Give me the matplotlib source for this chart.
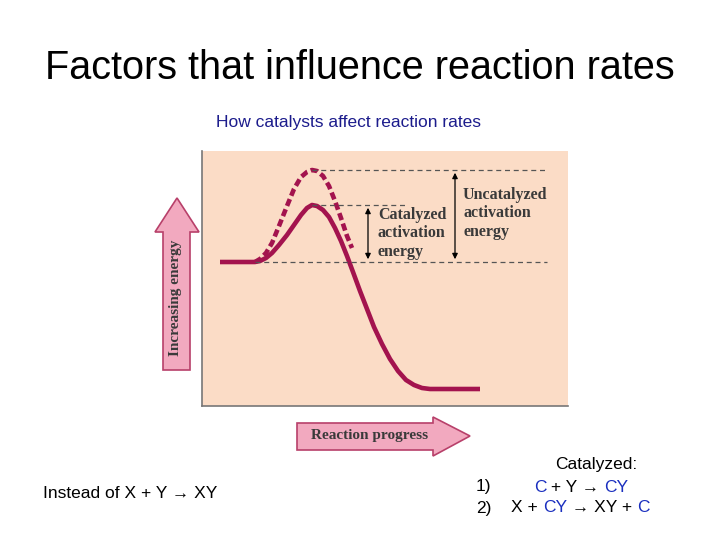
import matplotlib
matplotlib.use("Agg")
import matplotlib.pyplot as plt
from matplotlib.patches import Polygon

# data (panel coordinates: progress, energy)
solid_x = [18, 53, 58, 64, 70, 77, 85, 92, 99, 105, 110, 115, 121, 127, 133, 139, 145, 151,
           158, 165, 172, 180, 188, 196, 204, 212, 220, 228, 238, 278]
solid_y = [144, 144, 145, 148, 153, 161, 171, 181, 191, 198, 201, 200, 196, 189, 178, 165,
           150, 134, 115, 97, 79, 62, 47, 35, 26, 21, 18, 17, 17, 17]
dash_x = [53, 58, 64, 70, 77, 85, 92, 99, 105, 110, 115, 121, 127, 133, 139, 145, 150]
dash_y = [144, 147, 153, 163, 180, 200, 217, 229, 234, 236, 235, 230, 220, 205, 188, 170, 158]
reactant_level = 144
cat_peak = 201
uncat_peak = 236

fig = plt.figure(figsize=(7.2, 5.4), dpi=100)
fig.patch.set_facecolor("white")

ov = fig.add_axes([0, 0, 1, 1])
ov.set_xlim(0, 720); ov.set_ylim(540, 0); ov.axis("off")

ax = fig.add_axes([202/720, (540-406)/540, 366/720, 255/540])
ax.set_xlim(0, 366); ax.set_ylim(0, 255)
ax.set_facecolor("#fbdcc6")
ax.set_xticks([]); ax.set_yticks([])
for s in ["top", "right"]:
    ax.spines[s].set_visible(False)
for s in ["left", "bottom"]:
    ax.spines[s].set_color("#777777"); ax.spines[s].set_linewidth(1.2)

col = "#a3134e"
ax.plot(solid_x, solid_y, color=col, lw=3.3, solid_capstyle="butt", solid_joinstyle="round")
ax.plot(dash_x, dash_y, color=col, lw=3.3, ls=(0, (1.6, 0.8)))
dc = "#555555"
ax.plot([53, 345], [reactant_level]*2, ls=(0, (4, 3)), color=dc, lw=0.9)
ax.plot([110, 205], [cat_peak]*2, ls=(0, (4, 3)), color=dc, lw=0.9)
ax.plot([110, 345], [uncat_peak]*2, ls=(0, (4, 3)), color=dc, lw=0.9)
for xa, top in [(166, cat_peak), (253, uncat_peak)]:
    ax.annotate("", xy=(xa, top), xytext=(xa, reactant_level),
                arrowprops=dict(arrowstyle="<|-|>", color="black", lw=0.9, mutation_scale=8))
sf = dict(family="Liberation Serif", fontweight="bold", fontsize=11.5, color="#3a3a3a",
          va="top", linespacing=1.2)
ax.text(176, 199, "Catalyzed\nactivation\nenergy", **sf)
ax.text(261, 219, "Uncatalyzed\nactivation\nenergy", **sf)

# arrows
fc, ec = "#f2a9bf", "#b8406a"
ov.add_patch(Polygon([(163, 370), (163, 232), (155, 232), (177, 198), (199, 232), (190, 232), (190, 370)],
                     closed=True, fc=fc, ec=ec, lw=1.2))
ov.text(176, 298, "Increasing energy", rotation=90, ha="center", va="center",
        family="Liberation Serif", fontweight="bold", fontsize=11, color="#3a3a3a")
ov.add_patch(Polygon([(297, 423), (433, 423), (433, 417), (470, 436), (433, 456), (433, 450), (297, 450)],
                     closed=True, fc=fc, ec=ec, lw=1.2))
ov.text(370, 436, "Reaction progress", ha="center", va="center",
        family="Liberation Serif", fontweight="bold", fontsize=11, color="#3a3a3a")

ov.text(360, 68, "Factors that influence reaction rates", ha="center", va="center",
        family="Liberation Sans", fontsize=28.5)
ov.text(348, 123, "How catalysts affect reaction rates", ha="center", va="center",
        family="Liberation Sans", fontsize=12.5, color="#1c1c8c")
tf = dict(family=["Liberation Sans", "DejaVu Sans"], fontsize=12.5, va="center")
ov.text(43, 494, "Instead of X + Y \u2192 XY", **tf)
ov.text(596, 464, "Catalyzed:", ha="center", **tf)
ov.text(476, 487, "1)", **tf)
ov.text(476, 508, "2)", **tf)

fig.canvas.draw()
r = fig.canvas.get_renderer()
blue = "#1a2fbf"
def pieces(x, y, parts):
    for txt, c in parts:
        t = ov.text(x, y, txt, color=c, **tf)
        bb = t.get_window_extent(r)
        x += bb.width
pieces(534, 487, [("C", blue), (" + Y \u2192 ", "black"), ("CY", blue)])
pieces(511, 508, [("X + ", "black"), ("CY", blue), (" \u2192 XY + ", "black"), ("C", blue)])

fig.savefig("out.png", dpi=100)
